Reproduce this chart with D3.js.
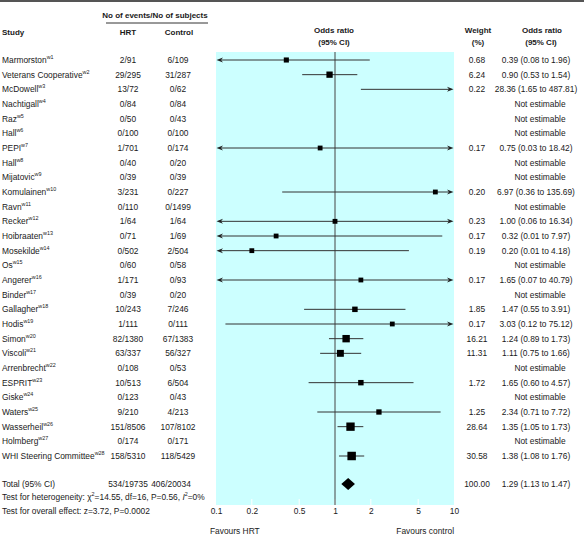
<!DOCTYPE html>
<html><head><meta charset="utf-8">
<script src="https://cdn.jsdelivr.net/npm/d3@7/dist/d3.min.js"></script>
<style>
body{margin:0;background:#fff;}
svg text{font-family:"Liberation Sans",Arial,Helvetica,sans-serif;fill:#1a1a1a;}
</style></head>
<body><svg id="c" width="584" height="537"></svg>
<script>
const studies = ["Marmorston","Veterans Cooperative","McDowell","Nachtigall","Raz","Hall","PEPI","Hall","Mijatovic","Komulainen","Ravn","Recker","Hoibraaten","Mosekilde","Os","Angerer","Binder","Gallagher","Hodis","Simon","Viscoli","Arrenbrecht","ESPRIT","Giske","Waters","Wasserheil","Holmberg","WHI Steering Committee"];
const refs = studies.map((d,i)=>"w"+(i+1));
const hrt = ["2/91","29/295","13/72","0/84","0/50","0/100","1/701","0/40","0/39","3/231","0/110","1/64","0/71","0/502","0/60","1/171","0/39","10/243","1/111","82/1380","63/337","0/108","10/513","0/123","9/210","151/8506","0/174","158/5310"];
const control = ["6/109","31/287","0/62","0/84","0/43","0/100","0/174","0/20","0/39","0/227","0/1499","1/64","1/69","2/504","0/58","0/93","0/20","7/246","0/111","67/1383","56/327","0/53","6/504","0/43","4/213","107/8102","0/171","118/5429"];
const weight = [0.68,6.24,0.22,null,null,null,0.17,null,null,0.20,null,0.23,0.17,0.19,null,0.17,null,1.85,0.17,16.21,11.31,null,1.72,null,1.25,28.64,null,30.58];
const orVal = [0.39,0.90,28.36,null,null,null,0.75,null,null,6.97,null,1.00,0.32,0.20,null,1.65,null,1.47,3.03,1.24,1.11,null,1.65,null,2.34,1.35,null,1.38];
const ciLo = [0.08,0.53,1.65,null,null,null,0.03,null,null,0.36,null,0.06,0.01,0.01,null,0.07,null,0.55,0.12,0.89,0.75,null,0.60,null,0.71,1.05,null,1.08];
const ciHi = [1.96,1.54,487.81,null,null,null,18.42,null,null,135.69,null,16.34,7.97,4.18,null,40.79,null,3.91,75.12,1.73,1.66,null,4.57,null,7.72,1.73,null,1.76];
const total = {hrt:"534/19735", control:"406/20034", weight:"100.00", or:1.29, lo:1.13, hi:1.47};
const tickValues = [0.1,0.2,0.5,1,2,5,10];
const heterogeneity = ["Test for heterogeneity: χ","2","=14.55, df=16, P=0.56, ","I","2","=0%"];
const overall = "Test for overall effect: z=3.72, P=0.0002";

const svg = d3.select("#c");
const fmt = d3.format(".2f");
const x = d3.scaleLog().domain([0.1,10]).range([216,454]);
const y = d3.scaleLinear().domain([0,27]).range([60,456]);
const sz = d3.scaleSqrt().domain([0,31]).range([4.5,8.5]);
const FS = 8.4;
const HS = 8;
const SS = 5.4;

// top rule
svg.append("line").attr("x1",0).attr("x2",584).attr("y1",1).attr("y2",1).attr("stroke","#555").attr("stroke-width",2);

// background
svg.append("rect").attr("x",x(0.1)).attr("y",52).attr("width",x(10)-x(0.1)).attr("height",505-52).attr("fill","#ccffff");

// headers
const H = (t,xx,yy,anchor)=>svg.append("text").attr("x",xx).attr("y",yy).attr("text-anchor",anchor||"middle").attr("font-size",HS).attr("font-weight","bold").attr("dominant-baseline","central").text(t);
H("No of events/No of subjects",155,15);
svg.append("line").attr("x1",106).attr("x2",208).attr("y1",23).attr("y2",23).attr("stroke","#333").attr("stroke-width",1);
H("Study",2,32,"start");
H("HRT",128,32);
H("Control",179,32);
H("Odds ratio",334,30);
H("(95% CI)",334,42);
H("Weight",478,30);
H("(%)",478,42);
H("Odds ratio",542,30);
H("(95% CI)",541,42);

// white ticks at bottom of plot
tickValues.forEach(t=>{
  if(t===0.1||t===10) return;
  svg.append("line").attr("x1",x(t)).attr("x2",x(t)).attr("y1",499).attr("y2",505).attr("stroke","#fff").attr("stroke-width",1);
});

// vertical line at 1
svg.append("line").attr("x1",x(1)).attr("x2",x(1)).attr("y1",52).attr("y2",505).attr("stroke","#444").attr("stroke-width",1);

// axis labels
const axis = d3.axisBottom(x).tickValues(tickValues).tickFormat(d=>String(d)).tickSize(0).tickPadding(0);
const ag = svg.append("g").attr("transform","translate(0,508)").call(axis);
ag.select(".domain").remove();
ag.selectAll("text").attr("font-size",FS).attr("fill","#1a1a1a").attr("font-family","Liberation Sans, Arial, sans-serif");

svg.append("text").attr("x",210).attr("y",531).attr("font-size",FS).attr("dominant-baseline","central").text("Favours HRT");
svg.append("text").attr("x",454).attr("y",531).attr("text-anchor","end").attr("font-size",FS).attr("dominant-baseline","central").text("Favours control");

// rows
const rows = svg.append("g");
studies.forEach((s,i)=>{
  const yy = y(i);
  const t = rows.append("text").attr("x",2).attr("y",yy).attr("font-size",FS).attr("dominant-baseline","central");
  t.append("tspan").text(s);
  t.append("tspan").attr("font-size",SS).attr("dy",-3).text(refs[i]);
  rows.append("text").attr("x",128).attr("y",yy).attr("text-anchor","middle").attr("font-size",FS).attr("dominant-baseline","central").text(hrt[i]);
  rows.append("text").attr("x",178).attr("y",yy).attr("text-anchor","middle").attr("font-size",FS).attr("dominant-baseline","central").text(control[i]);
  if(weight[i]==null){
    rows.append("text").attr("x",540).attr("y",yy).attr("text-anchor","middle").attr("font-size",FS).attr("dominant-baseline","central").text("Not estimable");
    return;
  }
  rows.append("text").attr("x",477).attr("y",yy).attr("text-anchor","middle").attr("font-size",FS).attr("dominant-baseline","central").text(fmt(weight[i]));
  rows.append("text").attr("x",536).attr("y",yy).attr("text-anchor","middle").attr("font-size",FS).attr("dominant-baseline","central")
    .text(`${fmt(orVal[i])} (${fmt(ciLo[i])} to ${fmt(ciHi[i])})`);
  const lo = Math.max(ciLo[i],0.1), hi = Math.min(ciHi[i],10);
  const x1 = x(lo), x2 = x(hi);
  const arrowL = ciLo[i]<0.1, arrowR = ciHi[i]>10;
  rows.append("line").attr("x1",x1+(arrowL?4:0)).attr("x2",x2-(arrowR?4:0)).attr("y1",yy).attr("y2",yy).attr("stroke","#333").attr("stroke-width",1);
  if(arrowL) rows.append("path").attr("d",`M${x1+0.5},${yy}L${x1+7},${yy-2.5}L${x1+5},${yy}L${x1+7},${yy+2.5}Z`).attr("fill","#222");
  if(arrowR) rows.append("path").attr("d",`M${x2-0.5},${yy}L${x2-7},${yy-2.5}L${x2-5},${yy}L${x2-7},${yy+2.5}Z`).attr("fill","#222");
  if(orVal[i]<=10 && orVal[i]>=0.1){
    const s2 = sz(weight[i]);
    rows.append("rect").attr("x",x(orVal[i])-s2/2).attr("y",yy-s2/2).attr("width",s2).attr("height",s2).attr("fill","#000");
  }
});

// total
const ty = 484;
svg.append("text").attr("x",2).attr("y",ty).attr("font-size",FS).attr("dominant-baseline","central").text("Total (95% CI)");
svg.append("text").attr("x",128).attr("y",ty).attr("text-anchor","middle").attr("font-size",FS).attr("dominant-baseline","central").text(total.hrt);
svg.append("text").attr("x",171).attr("y",ty).attr("text-anchor","middle").attr("font-size",FS).attr("dominant-baseline","central").text(total.control);
svg.append("text").attr("x",477).attr("y",ty).attr("text-anchor","middle").attr("font-size",FS).attr("dominant-baseline","central").text(total.weight);
svg.append("text").attr("x",536).attr("y",ty).attr("text-anchor","middle").attr("font-size",FS).attr("dominant-baseline","central")
  .text(`${fmt(total.or)} (${fmt(total.lo)} to ${fmt(total.hi)})`);
svg.append("path").attr("d",`M${x(total.lo)},${ty}L${x(total.or)},${ty-6}L${x(total.hi)},${ty}L${x(total.or)},${ty+6}Z`).attr("fill","#000");

const ht = svg.append("text").attr("x",2).attr("y",497).attr("font-size",FS).attr("dominant-baseline","central");
ht.append("tspan").text(heterogeneity[0]);
ht.append("tspan").attr("font-size",SS).attr("dy",-3).text(heterogeneity[1]);
ht.append("tspan").attr("dy",3).text(heterogeneity[2]);
ht.append("tspan").attr("font-style","italic").text(heterogeneity[3]);
ht.append("tspan").attr("font-size",SS).attr("dy",-3).text(heterogeneity[4]);
ht.append("tspan").attr("dy",3).text(heterogeneity[5]);
svg.append("text").attr("x",2).attr("y",511).attr("font-size",FS).attr("dominant-baseline","central").text(overall);
</script></body></html>
